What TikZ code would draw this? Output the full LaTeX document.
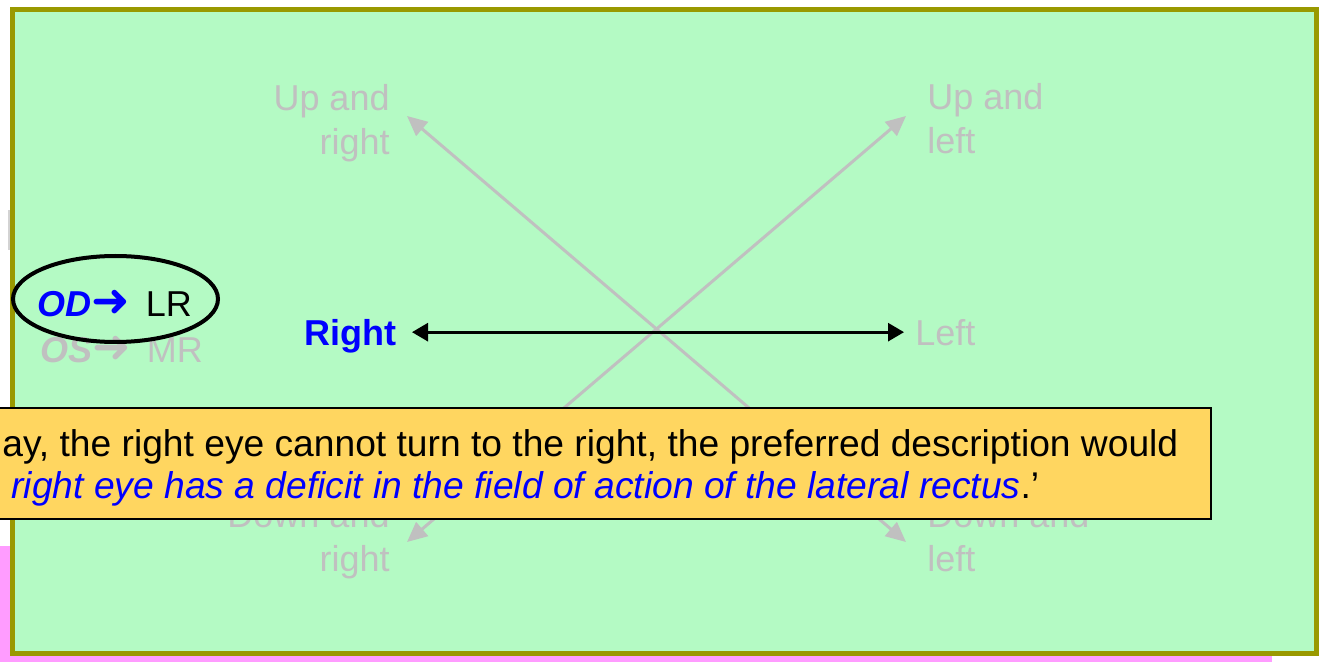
\documentclass[tikz,border=0pt]{standalone}
\usepackage{fontspec}
\setmainfont{Liberation Sans}
\newfontfamily\arrowfont{DejaVu Sans}
\usetikzlibrary{arrows.meta,shapes.geometric}
\definecolor{mint}{HTML}{B4FAC4}
\definecolor{olivebar}{HTML}{999900}
\definecolor{faint}{HTML}{C0C0C0}
\definecolor{pinkbg}{HTML}{FF9CFF}
\definecolor{gold}{HTML}{FFD660}
\definecolor{pureblue}{HTML}{0000FF}
\tikzset{
  dirlbl/.style={inner sep=0,text=faint,font=\fontsize{18}{22}\selectfont},
  diag/.style={{Triangle[length=10pt,width=9pt]}-{Triangle[length=10pt,width=9pt]},faint,line width=1.5pt},
  sidearrow/.style={{Triangle[length=8pt,width=9pt]}-{Triangle[length=8pt,width=9pt]},black,line width=1.4pt},
}
\newcommand{\eyearrow}{{\arrowfont\fontsize{23}{22}\selectfont ➜}}
\begin{document}
\begin{tikzpicture}[x=0.5pt,y=-0.5pt]
\tikzset{
  muscle/.style={inner sep=0,anchor=base west,font=\fontsize{18}{22}\selectfont},
  notebox/.style={draw=black,fill=gold,line width=1pt,inner sep=0,anchor=north west},
}
\useasboundingbox (0,0) rectangle (1321,662);
\clip (0,0) rectangle (1321,662);
% slide behind
\fill[pinkbg] (0,546) rectangle (12,662);
\fill[pinkbg] (0,654) rectangle (1272,662);
\fill[faint!70] (8,210) rectangle (10.5,250);
\draw[fill=mint,draw=olivebar,line width=2.5pt] (12.5,9.5) rectangle (1316.5,653.5);
% gaze directions
\coordinate (upr) at (407,116);
\coordinate (upl) at (906,116);
\coordinate (dnr) at (407,542);
\coordinate (dnl) at (906,542);
\draw[diag] (upr) -- (dnl);
\draw[diag] (dnr) -- (upl);
\node[dirlbl,anchor=base east,align=right] (lupr) at (390,155) {Up and\\right};
\node[dirlbl,anchor=base west,align=left]  (lupl) at (927,154) {Up and\\left};
\node[dirlbl,anchor=base east,align=right] (ldnr) at (390,571) {Down and\\right};
\node[dirlbl,anchor=base west,align=left]  (ldnl) at (927,571) {Down and\\left};
\node[dirlbl,anchor=base east,text=pureblue,font=\fontsize{18}{22}\selectfont\bfseries] (rgt) at (397,345) {Right};
\node[dirlbl,anchor=base west] (lft) at (915,345) {Left};
\draw[sidearrow,shorten <=7.5pt,shorten >=5.5pt] ([yshift=1.8pt]rgt.east) -- ([yshift=1.8pt]rgt.east -| lft.west);
% eye and muscle
\node[muscle,text=faint] (os) at (40,363) {{\bfseries\itshape OS}\eyearrow\hspace{8pt}MR};
\node[muscle] (od) at (37,317) {{\color{pureblue}\bfseries\itshape OD}{\color{pureblue}\eyearrow}\hspace{8pt}LR};
\node[ellipse,draw=black,line width=2pt,minimum width=102.5pt,minimum height=43pt,inner sep=0] (odring) at (115.5,299) {};
% callout
\node[notebox,minimum width=625pt,minimum height=55.5pt] (note) at (-40,407) {};
\node[muscle,align=left,font=\fontsize{18.6}{21}\selectfont] (notetext) at (2,498)
  {ay, the right eye cannot turn to the right, the preferred description would\\
   \hspace*{4.5pt}{\color{pureblue}\itshape right eye has a deficit in the field of action of the lateral rectus}.’};
\end{tikzpicture}
\end{document}
